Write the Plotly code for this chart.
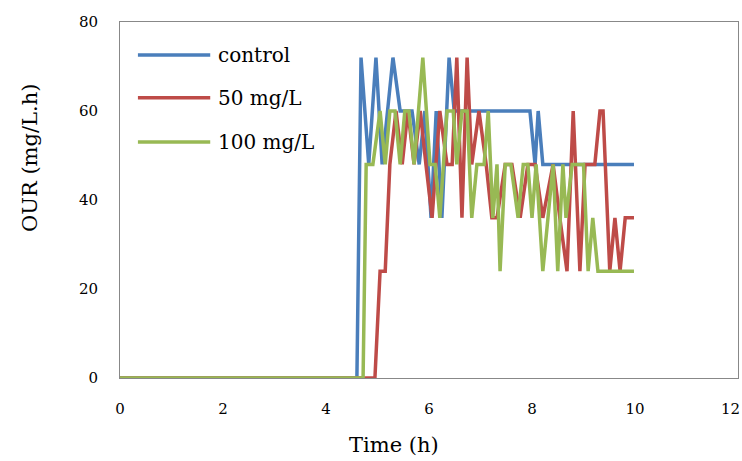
import plotly.graph_objects as go

# Oxygen uptake rate (OUR) time courses
control_t = [0.00, 4.60, 4.68, 4.83, 4.97, 5.09, 5.30, 5.44, 5.53, 5.67, 5.81, 5.92, 6.04,
             6.14, 6.25, 6.39, 6.49, 7.96, 8.06, 8.12, 8.21, 9.98]
control_v = [0, 0, 72, 48, 72, 48, 72, 60, 60, 60, 48, 60, 36,
             60, 36, 72, 60, 60, 48, 60, 48, 48]

mg50_t = [0.00, 4.95, 5.05, 5.15, 5.24, 5.36, 5.48, 5.59, 5.71, 5.83, 5.94, 6.06, 6.21,
          6.35, 6.45, 6.54, 6.64, 6.74, 6.83, 6.97, 7.11, 7.22, 7.32, 7.48, 7.61, 7.77,
          7.92, 8.06, 8.21, 8.41, 8.54, 8.68, 8.80, 8.93, 9.03, 9.22, 9.32, 9.38, 9.51,
          9.61, 9.71, 9.81, 9.98]
mg50_v = [0, 0, 24, 24, 48, 60, 48, 60, 48, 60, 48, 36, 60,
          48, 48, 72, 36, 72, 48, 60, 48, 36, 36, 48, 48, 36,
          48, 48, 36, 48, 36, 24, 60, 24, 48, 48, 60, 60, 24,
          36, 24, 36, 36]

mg100_t = [0.00, 4.72, 4.78, 4.91, 5.05, 5.15, 5.24, 5.34, 5.44, 5.53, 5.61, 5.71, 5.88,
           6.02, 6.12, 6.21, 6.35, 6.47, 6.54, 6.64, 6.74, 6.83, 6.93, 7.07, 7.15, 7.24,
           7.32, 7.38, 7.48, 7.59, 7.73, 7.83, 7.92, 8.00, 8.08, 8.21, 8.31, 8.41, 8.50,
           8.60, 8.66, 8.78, 8.89, 9.00, 9.09, 9.18, 9.28, 9.98]
mg100_v = [0, 0, 48, 48, 60, 48, 60, 60, 48, 60, 60, 48, 72,
           48, 48, 36, 60, 60, 48, 60, 60, 36, 48, 48, 60, 36,
           48, 24, 48, 48, 36, 48, 48, 36, 48, 24, 36, 48, 24,
           48, 36, 48, 48, 48, 24, 36, 24, 24]

series = [
    ("control", control_t, control_v, "#4A7EBB"),
    ("50 mg/L", mg50_t, mg50_v, "#BE4B48"),
    ("100 mg/L", mg100_t, mg100_v, "#98B954"),
]

x_ticks = [0, 2, 4, 6, 8, 10, 12]
x_labels = ["0", "2", "4", "6", "8", "10", "12"]
y_ticks = [0, 20, 40, 60, 80]

FONT = "DejaVu Serif"
fig = go.Figure()
for name, t, v, color in series:
    fig.add_trace(go.Scatter(x=t, y=v, mode="lines", name=name,
                             line=dict(color=color, width=3.5),
                             showlegend=False))

# Hand-built legend in the upper-left corner of the plot area
legend_rows = [0.907, 0.787, 0.663]
for (name, _, _, color), yy in zip(series, legend_rows):
    fig.add_shape(type="line", xref="paper", yref="paper",
                  x0=0.029, x1=0.146, y0=yy, y1=yy,
                  line=dict(color=color, width=3.5))
    fig.add_annotation(xref="paper", yref="paper", x=0.155, y=yy,
                       text=name, showarrow=False, xanchor="left", yanchor="middle",
                       font=dict(family=FONT, size=20, color="#000"))

# Axis titles
fig.add_annotation(xref="paper", yref="paper", x=0.443, y=0, yshift=-67,
                   text="Time (h)", showarrow=False, xanchor="center", yanchor="middle",
                   font=dict(family=FONT, size=21, color="#000"))
fig.add_annotation(xref="paper", yref="paper", x=0, xshift=-90, y=0.618,
                   text="OUR (mg/L.h)", showarrow=False, textangle=-90,
                   xanchor="center", yanchor="middle",
                   font=dict(family=FONT, size=21, color="#000"))

# The last x label sits against the right edge, so it is right-aligned there
tick_text = x_labels[:-1] + [""]
fig.add_annotation(xref="x", yref="paper", x=x_ticks[-1], y=0, xshift=4, yshift=-31,
                   text=x_labels[-1], showarrow=False, xanchor="right", yanchor="middle",
                   font=dict(family=FONT, size=15, color="#000"))

fig.update_xaxes(range=[0, 12], tickvals=x_ticks, ticktext=tick_text,
                 showgrid=False, zeroline=False,
                 showline=True, linecolor="#888888", linewidth=1, mirror=True,
                 ticks="", ticklabelstandoff=17, automargin=False,
                 tickfont=dict(family=FONT, size=15, color="#000"))
fig.update_yaxes(range=[0, 80], tickvals=y_ticks, showgrid=False, zeroline=False,
                 showline=True, linecolor="#888888", linewidth=1, mirror=True,
                 ticks="", ticklabelstandoff=18, automargin=False,
                 tickfont=dict(family=FONT, size=15, color="#000"))

fig.update_layout(width=742, height=461,
                  margin=dict(l=120, r=4, t=22, b=83),
                  plot_bgcolor="white", paper_bgcolor="white")

fig.write_html("out.html")
